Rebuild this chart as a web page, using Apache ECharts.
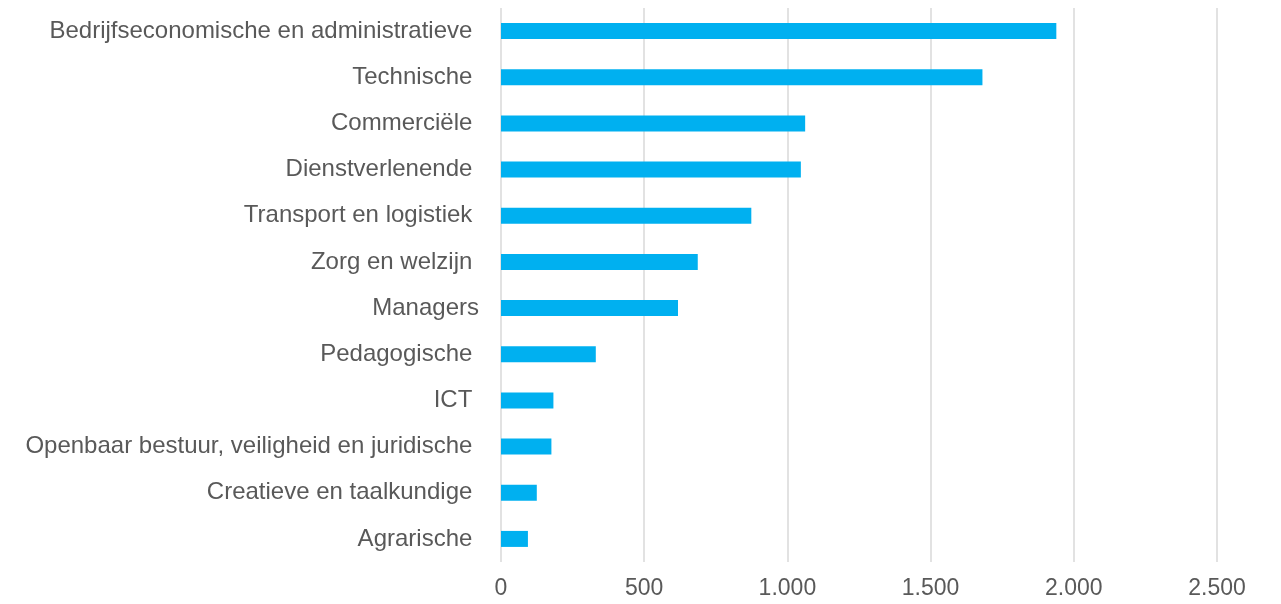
<!DOCTYPE html>
<html>
<head>
<meta charset="utf-8">
<script src="https://cdn.jsdelivr.net/npm/echarts@6/dist/echarts.min.js"></script>
<style>
    html, body { margin: 0; padding: 0; background: #fff; }
    #chart { width: 1281px; height: 604px; }
</style>
</head>
<body>
<div id="chart"></div>
<script>
// categories top to bottom (trailing space as in source labels)
const categories = [
    'Bedrijfseconomische en administratieve ',
    'Technische ',
    'Commerciële ',
    'Dienstverlenende ',
    'Transport en logistiek ',
    'Zorg en welzijn ',
    'Managers',
    'Pedagogische ',
    'ICT ',
    'Openbaar bestuur, veiligheid en juridische ',
    'Creatieve en taalkundige ',
    'Agrarische '
]
const values = [1939, 1681, 1062, 1047, 874, 687, 618, 331, 183, 176, 125, 94]

function formatNumber(v) {
    return String(v).replace(/\B(?=(\d{3})+(?!\d))/g, '.')
}

var dom = document.getElementById('chart')
var myChart = echarts.init(dom, null, { renderer: 'canvas' })

var option = {
    animation: false,
    grid: {
        left: 501,
        right: 64,
        top: 8,
        bottom: 42
    },
    xAxis: {
        type: 'value',
        min: 0,
        max: 2500,
        interval: 500,
        axisLine: { show: false },
        axisTick: { show: false },
        splitLine: { lineStyle: { color: '#d9d9d9', width: 1.5 } },
        axisLabel: {
            color: '#595959',
            fontSize: 23,
            fontFamily: 'Liberation Sans, Arial, sans-serif',
            margin: 15,
            formatter: formatNumber
        }
    },
    yAxis: {
        type: 'category',
        inverse: true,
        data: categories,
        axisLine: { show: false },
        axisTick: { show: false },
        axisLabel: {
            color: '#595959',
            fontSize: 24,
            fontFamily: 'Liberation Sans, Arial, sans-serif',
            margin: 22
        }
    },
    series: [
        {
            type: 'bar',
            data: values,
            barWidth: 16,
            itemStyle: { color: '#00b0f0' }
        }
    ]
}

myChart.setOption(option)
window.addEventListener('resize', myChart.resize)
</script>
</body>
</html>
